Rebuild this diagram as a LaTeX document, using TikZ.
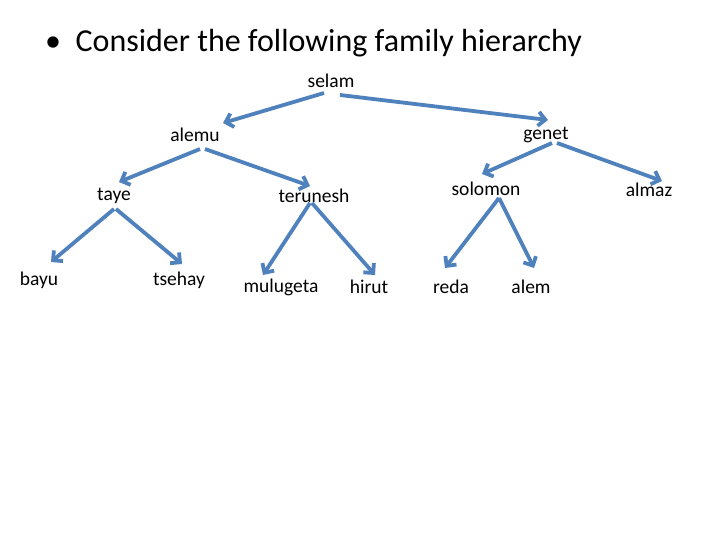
\documentclass[tikz,border=0pt]{standalone}
\usepackage{fontspec}
\setmainfont{Carlito}
\usetikzlibrary{arrows.meta}
\definecolor{arr}{RGB}{79,129,189}
\tikzset{lab/.style={font=\fontsize{19.5}{22}\selectfont,inner sep=0pt},
  con/.style={arr,line width=3.8pt,-{Straight Barb[length=7pt,width=14pt]}}}
\begin{document}
\begin{tikzpicture}[x=1pt,y=-1pt]
\useasboundingbox (0,0) rectangle (720,540);
\node[anchor=west,inner sep=0pt,font=\fontsize{32}{36}\selectfont] (title) at (45,43) {\textbullet\ \ Consider the following family hierarchy};
\node[lab] (selam) at (331,81) {selam};
\node[lab] (alemu) at (195,135) {alemu};
\node[lab] (genet) at (546,135) {genet};
\node[lab] (taye) at (114,196) {taye};
\node[lab] (terunesh) at (314,196) {terunesh};
\node[lab] (solomon) at (486,189) {solomon};
\node[lab] (almaz) at (649,190) {almaz};
\node[lab] (bayu) at (39,280) {bayu};
\node[lab] (tsehay) at (179,280) {tsehay};
\node[lab] (mulugeta) at (281,287) {mulugeta};
\node[lab] (hirut) at (369,287) {hirut};
\node[lab] (reda) at (451,287) {reda};
\node[lab] (alem) at (531,287) {alem};
\foreach \n/\a/\b/\c/\d in {a/324/93/223/123, b/340/95/548/120, c/200/149/119/182, d/205/149/310/186,
  e/552/143/482/174, f/557/143/662/181, g/114/209/51/262, h/116/209/182/264,
  i/310/203/263/275, j/312/203/375/275, k/499/198/445/268, l/499/198/534/268}{
  \coordinate (s\n) at (\a,\b);
  \coordinate (t\n) at (\c,\d);
  \draw[con] (s\n) -- (t\n);
}
\end{tikzpicture}
\end{document}
